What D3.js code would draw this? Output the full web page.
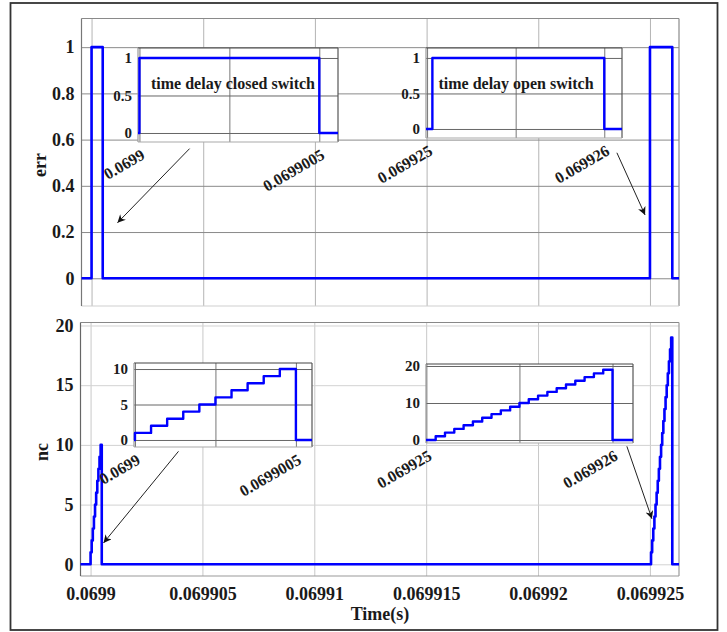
<!DOCTYPE html>
<html>
<head>
<meta charset="utf-8">
<script src="https://cdn.jsdelivr.net/npm/d3@7"></script>
<style>
  body { margin: 0; background: #fff; }
  svg text { font-family: "Liberation Serif", "Times New Roman", serif; font-weight: bold; fill: #1a1a1a; }
</style>
</head>
<body>
<div id="chart"></div>
<script>
// main time axis
const timeTicks = [0.0699, 0.069905, 0.06991, 0.069915, 0.06992, 0.069925];
const timeTickLabels = ['0.0699', '0.069905', '0.06991', '0.069915', '0.06992', '0.069925'];
const errTicks = [0, 0.2, 0.4, 0.6, 0.8, 1];
const errTickLabels = ['0', '0.2', '0.4', '0.6', '0.8', '1'];
const ncTicks = [0, 5, 10, 15, 20];

// err signal breakpoints (full window)
const errTime = [0.06989955, 0.0699, 0.0699, 0.0699005, 0.0699005, 0.069925, 0.069925, 0.069926, 0.069926, 0.0699263];
const errValue = [0, 0, 1, 1, 0, 0, 1, 1, 0, 0];

// err zoomed: closed switch / open switch
const errClosedTime = [0.069899996, 0.0699, 0.0699, 0.0699005, 0.0699005, 0.069900552];
const errClosedValue = [0, 0, 1, 1, 0, 0];
const errOpenTime = [0.069924994, 0.06992503, 0.06992503, 0.069926, 0.069926, 0.0699261];
const errOpenValue = [0, 0, 1, 1, 0, 0];

// nc counter: step edges and the count held in each step
const ncClosedEdges = [0.0699, 0.06990005, 0.0699001, 0.06990015, 0.0699002, 0.06990025,
  0.0699003, 0.06990035, 0.0699004, 0.06990045, 0.0699005];
const ncClosedCount = [1, 2, 3, 4, 5, 6, 7, 8, 9, 10];
const ncOpenEdges = [0.069925, 0.06992505, 0.0699251, 0.06992515, 0.0699252, 0.06992525,
  0.0699253, 0.06992535, 0.0699254, 0.06992545, 0.0699255, 0.06992555, 0.0699256,
  0.06992565, 0.0699257, 0.06992575, 0.0699258, 0.06992585, 0.0699259, 0.06992595, 0.069926];
const ncOpenCount = [0, 1, 2, 3, 4, 5, 6, 7, 8, 9, 10, 11, 12, 13, 14, 15, 16, 17, 18, 19];

// arrows (tail -> tip) in main-axes data units
const errArrows = [
  { from: [0.06990439, 0.561], to: [0.06990116, 0.24] },
  { from: [0.06992352, 0.543], to: [0.06992478, 0.274] }
];
const ncArrows = [
  { from: [0.06990393, 9.46], to: [0.06990058, 1.79] },
  { from: [0.06992397, 9.88], to: [0.06992509, 3.81] }
];

const W = 727, H = 632;
const blue = '#0000ff';

const svg = d3.select('#chart').append('svg')
  .attr('width', W).attr('height', H);

const defs = svg.append('defs');
defs.append('marker')
  .attr('id', 'arrow')
  .attr('viewBox', '0 0 10 10')
  .attr('refX', 10).attr('refY', 5)
  .attr('markerWidth', 10).attr('markerHeight', 8)
  .attr('markerUnits', 'userSpaceOnUse')
  .attr('orient', 'auto')
  .append('path').attr('d', 'M0,0L10,5L0,10L3,5Z').attr('fill', '#111');

// outer frame
svg.append('rect')
  .attr('x', 10.5).attr('y', 3).attr('width', 707).attr('height', 627)
  .attr('fill', 'none').attr('stroke', '#333').attr('stroke-width', 1.8);

const pairs = (xs, ys) => xs.map((t, i) => [t, ys[i]]);
const steps = (edges, counts) => {
  const pts = [];
  counts.forEach((c, i) => { pts.push([edges[i], c], [edges[i + 1], c]); });
  return pts;
};

const mainDomain = [0.06989955, 0.0699263];

const ncSeries = (x0, x1) => [
  [x0, 0], [ncClosedEdges[0], 0],
  ...steps(ncClosedEdges, ncClosedCount),
  [ncClosedEdges[ncClosedEdges.length - 1], 0],
  [ncOpenEdges[0], 0],
  ...steps(ncOpenEdges, ncOpenCount),
  [ncOpenEdges[ncOpenEdges.length - 1], 0],
  [x1, 0]
];

function drawPanel(cfg) {
  const x = d3.scaleLinear().domain(cfg.xDomain).range([cfg.left, cfg.right]);
  const y = d3.scaleLinear().domain(cfg.yDomain).range([cfg.bottom, cfg.top]);
  const g = svg.append('g');

  if (cfg.fill) {
    g.append('rect')
      .attr('x', cfg.left).attr('y', cfg.top)
      .attr('width', cfg.right - cfg.left).attr('height', cfg.bottom - cfg.top)
      .attr('fill', '#fff');
  }

  // grid
  g.append('g')
    .attr('transform', `translate(0,${cfg.bottom})`)
    .call(d3.axisBottom(x).tickValues(cfg.xGrid).tickSize(-(cfg.bottom - cfg.top)).tickFormat(''))
    .call(a => a.select('.domain').remove())
    .call(a => a.selectAll('line').attr('stroke', cfg.xGridColor).attr('stroke-width', 1));
  g.append('g')
    .attr('transform', `translate(${cfg.left},0)`)
    .call(d3.axisLeft(y).tickValues(cfg.yGrid).tickSize(-(cfg.right - cfg.left)).tickFormat(''))
    .call(a => a.select('.domain').remove())
    .call(a => a.selectAll('line').attr('stroke', cfg.yGridColor).attr('stroke-width', 1));

  // box
  const box = [
    [cfg.left, cfg.top, cfg.right, cfg.top, cfg.boxTop],
    [cfg.right, cfg.top, cfg.right, cfg.bottom, cfg.boxRight],
    [cfg.left, cfg.bottom, cfg.right, cfg.bottom, cfg.boxBottom],
    [cfg.left, cfg.top, cfg.left, cfg.bottom, cfg.boxLeft]
  ];
  g.selectAll('line.box').data(box).join('line')
    .attr('class', 'box')
    .attr('x1', d => d[0]).attr('y1', d => d[1])
    .attr('x2', d => d[2]).attr('y2', d => d[3])
    .attr('stroke', d => d[4]).attr('stroke-width', 1.2);

  // y tick labels
  g.append('g')
    .attr('transform', `translate(${cfg.left},0)`)
    .call(d3.axisLeft(y).tickValues(cfg.yTicks).tickSize(0).tickPadding(cfg.yPad)
      .tickFormat((d, i) => cfg.yLabels[i]))
    .call(a => a.select('.domain').remove())
    .call(a => a.selectAll('text').attr('font-size', cfg.yFont).attr('font-family', null));

  // x tick labels
  if (cfg.xTicks) {
    const ax = g.append('g')
      .attr('transform', `translate(0,${cfg.bottom})`)
      .call(d3.axisBottom(x).tickValues(cfg.xTicks).tickSize(0).tickPadding(cfg.xPad || 8)
        .tickFormat((d, i) => cfg.xLabels[i]))
      .call(a => a.select('.domain').remove())
      .call(a => a.selectAll('text').attr('font-size', cfg.xFont).attr('font-family', null));
    if (cfg.rotate) {
      ax.selectAll('text')
        .attr('x', 6).attr('y', 16).attr('dy', 0)
        .attr('text-anchor', 'end')
        .attr('transform', 'rotate(-30 6 16)');
    }
  }

  // signal
  const line = d3.line().x(d => x(d[0])).y(d => y(d[1]));
  g.append('path')
    .datum(cfg.data)
    .attr('d', line)
    .attr('fill', 'none')
    .attr('stroke', blue)
    .attr('stroke-width', cfg.lineWidth)
    .attr('stroke-linejoin', 'round');

  if (cfg.title) {
    g.append('text')
      .attr('x', cfg.title.x).attr('y', cfg.title.y)
      .attr('text-anchor', 'middle')
      .attr('font-size', 16)
      .text(cfg.title.text);
  }
  return { x, y, g };
}

// ---- top main: err
const errPanel = drawPanel({
  left: 81.5, right: 679, top: 18.5, bottom: 306,
  xDomain: mainDomain, yDomain: [-0.12, 1.124],
  xGrid: timeTicks, yGrid: errTicks,
  xGridColor: '#b4b4b4', yGridColor: '#8a8a8a',
  boxTop: '#8a8a8a', boxRight: '#8a8a8a', boxBottom: '#cfcfcf', boxLeft: '#777',
  yTicks: errTicks, yLabels: errTickLabels, yPad: 7, yFont: 18,
  data: pairs(errTime, errValue), lineWidth: 2.6
});

// ---- bottom main: nc
const ncPanel = drawPanel({
  left: 80.5, right: 679, top: 322.5, bottom: 576,
  xDomain: mainDomain, yDomain: [-0.98, 20.25],
  xGrid: timeTicks, yGrid: ncTicks,
  xGridColor: '#c8c8c8', yGridColor: '#d2d2d2',
  boxTop: '#888', boxRight: '#9a9a9a', boxBottom: '#9a9a9a', boxLeft: '#666',
  yTicks: ncTicks, yLabels: ncTicks.map(String), yPad: 7, yFont: 18,
  xTicks: timeTicks, xLabels: timeTickLabels, xFont: 18, xPad: 11,
  data: ncSeries(mainDomain[0], mainDomain[1]), lineWidth: 2.6
});

// axis titles
svg.append('text')
  .attr('transform', 'translate(46,165) rotate(-90)')
  .attr('text-anchor', 'middle').attr('font-size', 18).text('err');
svg.append('text')
  .attr('transform', 'translate(48,452) rotate(-90)')
  .attr('text-anchor', 'middle').attr('font-size', 18).text('nc');
svg.append('text')
  .attr('x', 380).attr('y', 620)
  .attr('text-anchor', 'middle').attr('font-size', 18).text('Time(s)');

// ---- insets
const insetCommon = {
  fill: true, yPad: 6, yFont: 15, xFont: 16, rotate: true, lineWidth: 2.4,
  xGridColor: '#777', yGridColor: '#666',
  boxTop: '#444', boxRight: '#555', boxBottom: '#aaa', boxLeft: '#999'
};

drawPanel(Object.assign({}, insetCommon, {
  left: 138, right: 338, top: 48, bottom: 142,
  xDomain: [0.069899996, 0.069900552], yDomain: [-0.12, 1.133],
  xGrid: [0.0699, 0.06990025, 0.0699005], yGrid: [0, 0.5, 1],
  yTicks: [0, 0.5, 1], yLabels: ['0', '0.5', '1'],
  xTicks: [0.0699, 0.0699005], xLabels: ['0.0699', '0.0699005'],
  data: pairs(errClosedTime, errClosedValue),
  title: { x: 233, y: 89, text: 'time delay closed switch' }
}));

drawPanel(Object.assign({}, insetCommon, {
  left: 426, right: 622, top: 48, bottom: 138,
  xDomain: [0.069924994, 0.0699261], yDomain: [-0.127, 1.14],
  xGrid: [0.069925, 0.0699255, 0.069926], yGrid: [0, 0.5, 1],
  yTicks: [0, 0.5, 1], yLabels: ['0', '0.5', '1'],
  xTicks: [0.069925, 0.069926], xLabels: ['0.069925', '0.069926'],
  data: pairs(errOpenTime, errOpenValue),
  title: { x: 516, y: 89, text: 'time delay open switch' }
}));

drawPanel(Object.assign({}, insetCommon, {
  left: 134, right: 312, top: 363, bottom: 447,
  xDomain: [0.069899997, 0.06990055], yDomain: [-0.99, 10.85],
  xGrid: [0.0699, 0.06990025, 0.0699005], yGrid: [0, 5, 10],
  yTicks: [0, 5, 10], yLabels: ['0', '5', '10'],
  xTicks: [0.0699, 0.0699005], xLabels: ['0.0699', '0.0699005'],
  data: [[0.069899997, 0], [ncClosedEdges[0], 0], ...steps(ncClosedEdges, ncClosedCount),
    [ncClosedEdges[ncClosedEdges.length - 1], 0], [0.06990055, 0]]
}));

drawPanel(Object.assign({}, insetCommon, {
  left: 426, right: 633, top: 364, bottom: 443,
  xDomain: [0.069924998, 0.06992611], yDomain: [-0.81, 20.54],
  xGrid: [0.069925, 0.0699255, 0.069926], yGrid: [0, 10, 20],
  yTicks: [0, 10, 20], yLabels: ['0', '10', '20'],
  xTicks: [0.069925, 0.069926], xLabels: ['0.069925', '0.069926'],
  data: [[0.069924998, 0], ...steps(ncOpenEdges, ncOpenCount),
    [ncOpenEdges[ncOpenEdges.length - 1], 0], [0.06992611, 0]]
}));

// ---- arrows
function drawArrows(panel, arrows) {
  svg.append('g').selectAll('line').data(arrows).join('line')
    .attr('x1', d => panel.x(d.from[0])).attr('y1', d => panel.y(d.from[1]))
    .attr('x2', d => panel.x(d.to[0])).attr('y2', d => panel.y(d.to[1]))
    .attr('stroke', '#222').attr('stroke-width', 1)
    .attr('marker-end', 'url(#arrow)');
}
drawArrows(errPanel, errArrows);
drawArrows(ncPanel, ncArrows);
</script>
</body>
</html>
